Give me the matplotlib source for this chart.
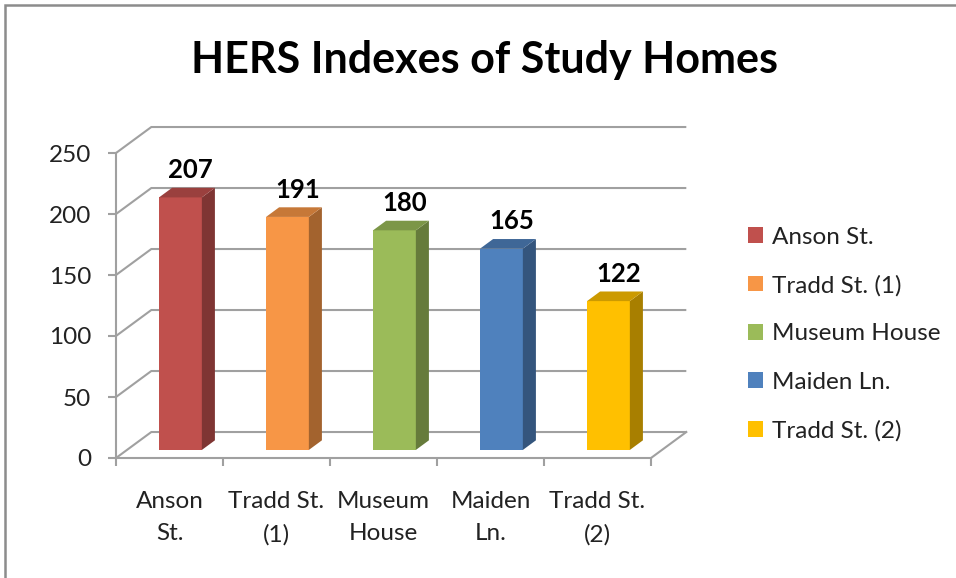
import matplotlib
matplotlib.use('Agg')
import matplotlib.pyplot as plt
from matplotlib.patches import Polygon, Rectangle, Patch
import numpy as np

plt.rcParams['font.family'] = ['Lato', 'DejaVu Sans']

homes = ['Anson St.', 'Tradd St. (1)', 'Museum House', 'Maiden Ln.', 'Tradd St. (2)']
tick_labels = ['Anson\nSt.', 'Tradd St.\n(1)', 'Museum\nHouse', 'Maiden\nLn.', 'Tradd St.\n(2)']
hers = [207, 191, 180, 165, 122]
colors = ['#C0504D', '#F79646', '#9BBB59', '#4F81BD', '#FFC000']

grid_c = '#A0A0A0'
W, H = 956, 578
fig = plt.figure(figsize=(W / 100, H / 100), dpi=100)

# front plane: x 116..651 px, y 458..153 px
ax = fig.add_axes([116 / W, 120 / H, 535 / W, 305 / H])
ax.set_xlim(0, 5)
ax.set_ylim(0, 250)

# depth of the 3d box in data units
DX, DY = 0.33, 21.3
f0, f1 = 0.31, 0.68
bw = 0.40

# walls
for v in range(0, 251, 50):
    ax.plot([0, DX, 5 + DX], [v, v + DY, v + DY], color=grid_c, lw=1.5,
            clip_on=False, zorder=1, solid_capstyle='butt')
ax.plot([5, 5 + DX], [0, DY], color=grid_c, lw=1.5, clip_on=False, zorder=1)

def darker(c, k):
    rgb = np.array(matplotlib.colors.to_rgb(c))
    return tuple(rgb * k)

xs = np.arange(len(hers)) + 0.5
b0 = f0 * DY
xf = xs + f0 * DX
ax.bar(xf, hers, width=bw, bottom=b0, color=colors, zorder=3, clip_on=False)
dd = f1 - f0
for x, v, c in zip(xf, hers, colors):
    x0, x1 = x - bw / 2, x + bw / 2
    top = v + b0
    side = Polygon([(x1, b0), (x1 + dd * DX, b0 + dd * DY),
                    (x1 + dd * DX, top + dd * DY), (x1, top)],
                   closed=True, facecolor=darker(c, 0.66), edgecolor='none',
                   zorder=3, clip_on=False)
    roof = Polygon([(x0, top), (x1, top), (x1 + dd * DX, top + dd * DY),
                    (x0 + dd * DX, top + dd * DY)],
                   closed=True, facecolor=darker(c, 0.8), edgecolor='none',
                   zorder=3, clip_on=False)
    ax.add_patch(side)
    ax.add_patch(roof)
    ax.text(x + 0.095, v + 29, str(v), ha='center', va='center',
            fontsize=18.5, fontweight='bold', color='black', zorder=5)

for s in ['top', 'right']:
    ax.spines[s].set_visible(False)
for s in ['left', 'bottom']:
    ax.spines[s].set_color(grid_c)
    ax.spines[s].set_linewidth(1.5)
    ax.spines[s].set_zorder(2)

ax.set_yticks(range(0, 251, 50))
ax.tick_params(axis='y', direction='out', length=6, width=1.5, color=grid_c,
               labelsize=17.5, labelcolor='#222222', pad=12)
ax.set_xticks(range(6))
ax.set_xticklabels([])
ax.set_xticks(xs, minor=True)
ax.set_xticklabels(tick_labels, minor=True, fontsize=17.5, color='#222222',
                   linespacing=1.65)
ax.tick_params(axis='x', which='major', direction='out', length=6, width=1.5,
               color=grid_c)
ax.tick_params(axis='x', which='minor', length=0, pad=24)
ax.patch.set_visible(False)

fig.text(484 / W, 1 - 60 / H, 'HERS Indexes of Study Homes', ha='center',
         va='center', fontsize=31, fontweight='bold', color='black')

handles = [Patch(facecolor=c, edgecolor='none') for c in colors]
fig.legend(handles, homes, loc='center left', bbox_to_anchor=(748 / W, 1 - 334 / H),
           frameon=False, fontsize=17.5, handlelength=0.6, handleheight=0.6,
           handletextpad=0.4, labelspacing=1.12, labelcolor='#222222',
           borderpad=0, borderaxespad=0)

fig.add_artist(Rectangle((5 / W, -0.1), 1.2, 1.1 - 5 / H, transform=fig.transFigure,
                         fill=False, edgecolor='#8C8C8C', lw=1.8))

fig.savefig('out.png', dpi=100)
